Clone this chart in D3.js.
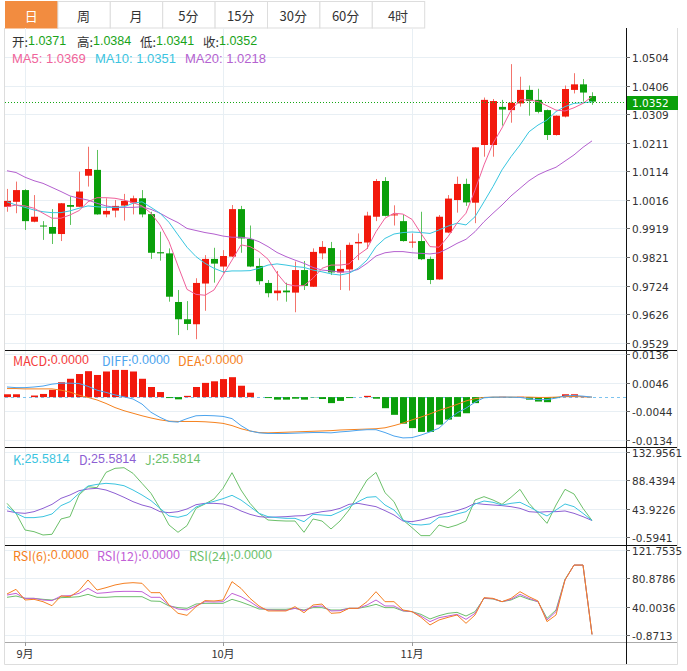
<!DOCTYPE html>
<html>
<head>
<meta charset="utf-8">
<script src="https://cdn.jsdelivr.net/npm/d3@7"></script>
<style>
  body { margin: 0; background: #fff; }
  svg { display: block; }
  .cn { font-family: 'Microsoft YaHei', 'Noto Sans CJK SC', 'Noto Sans', sans-serif; }
  .lat { font-family: 'Liberation Sans', Arial, sans-serif; }
  .ax { font-family: 'DejaVu Sans', Tahoma, sans-serif; font-size: 10.5px; fill: #333; }
</style>
</head>
<body>
<svg id="chart"></svg>
<script>
// period tabs
const tabs = ['日', '周', '月', '5分', '15分', '30分', '60分', '4时'];

// daily candles, oldest first
const opens = [0.9993, 1.0010, 1.0050, 0.9942, 0.9929, 0.9924, 0.9900, 0.9999, 0.9993, 1.0099,
    1.0119, 0.9967, 0.9980, 0.9997, 1.0007, 1.0022, 0.9968, 0.9838, 0.9834, 0.9668,
    0.9609, 0.9592, 0.9731, 0.9815, 0.9789, 0.9823, 0.9985, 0.9883, 0.9791, 0.9733,
    0.9698, 0.9707, 0.9700, 0.9777, 0.9720, 0.9834, 0.9852, 0.9769, 0.9779, 0.9868,
    0.9871, 0.9959, 1.0081, 0.9964, 0.9944, 0.9871, 0.9876, 0.9815, 0.9745, 0.9905,
    1.0016, 1.0071, 1.0007, 1.0204, 1.0204, 1.0334, 1.0323, 1.0346, 1.0392, 1.0358,
    1.0323, 1.0238, 1.0301, 1.0392, 1.0411, 1.0371];
const highs = [1.0054, 1.0079, 1.0053, 1.0033, 0.9944, 0.9985, 1.0006, 1.0028, 1.0113, 1.0198,
    1.0187, 1.0022, 1.0016, 1.0037, 1.0031, 1.0050, 0.9976, 0.9908, 0.9851, 0.9709,
    0.9671, 0.9749, 0.9828, 0.9853, 0.9845, 0.9999, 0.9996, 0.9929, 0.9817, 0.9743,
    0.9774, 0.9734, 0.9806, 0.9808, 0.9851, 0.9876, 0.9873, 0.9845, 0.9871, 0.9902,
    0.9976, 1.0088, 1.0094, 0.9998, 0.9965, 0.9902, 0.9976, 0.9823, 0.9965, 1.0033,
    1.0096, 1.0089, 1.0197, 1.0366, 1.0361, 1.0358, 1.0480, 1.0437, 1.0407, 1.0396,
    1.0325, 1.0305, 1.0407, 1.0449, 1.0429, 1.0384];
const lows = [0.9976, 0.9971, 0.9914, 0.9940, 0.9880, 0.9866, 0.9876, 0.9931, 0.9992, 1.0062,
    0.9966, 0.9957, 0.9957, 0.9946, 0.9967, 0.9957, 0.9815, 0.9809, 0.9669, 0.9555,
    0.9572, 0.9541, 0.9638, 0.9734, 0.9766, 0.9821, 0.9836, 0.9787, 0.9727, 0.9684,
    0.9673, 0.9669, 0.9633, 0.9709, 0.9719, 0.9814, 0.9760, 0.9709, 0.9707, 0.9811,
    0.9849, 0.9944, 0.9960, 0.9929, 0.9874, 0.9853, 0.9811, 0.9729, 0.9744, 0.9903,
    0.9973, 0.9996, 0.9937, 1.0164, 1.0164, 1.0270, 1.0280, 1.0335, 1.0304, 1.0312,
    1.0221, 1.0236, 1.0298, 1.0380, 1.0352, 1.0341];
const closes = [1.0013, 1.0050, 0.9944, 0.9959, 0.9926, 0.9901, 1.0005, 0.9993, 1.0045, 1.0122,
    0.9967, 0.9979, 0.9996, 1.0013, 1.0022, 0.9967, 0.9836, 0.9834, 0.9686, 0.9609,
    0.9593, 0.9733, 0.9815, 0.9799, 0.9825, 0.9985, 0.9885, 0.9789, 0.9739, 0.9698,
    0.9707, 0.9701, 0.9777, 0.9723, 0.9839, 0.9856, 0.9769, 0.9781, 0.9863, 0.9873,
    0.9963, 1.0081, 0.9962, 0.9967, 0.9876, 0.9874, 0.9814, 0.9743, 0.9959, 1.0021,
    1.0071, 1.0008, 1.0196, 1.0358, 1.0354, 1.0325, 1.0348, 1.0392, 1.0354, 1.0317,
    1.0238, 1.0304, 1.0395, 1.0411, 1.0383, 1.0352];

// moving averages as drawn
const ma5 = [0.9993, 0.9999, 0.9996, 0.9988, 0.9971, 0.9954, 0.9954, 0.9965, 0.9980, 1.0010,
    1.0024, 1.0024, 1.0022, 1.0016, 1.0007, 0.9996, 0.9971, 0.9931, 0.9874, 0.9791,
    0.9711, 0.9694, 0.9691, 0.9709, 0.9760, 0.9811, 0.9863, 0.9857, 0.9840, 0.9814,
    0.9766, 0.9729, 0.9723, 0.9724, 0.9749, 0.9783, 0.9794, 0.9794, 0.9798, 0.9828,
    0.9850, 0.9908, 0.9954, 0.9971, 0.9968, 0.9950, 0.9902, 0.9857, 0.9855, 0.9891,
    0.9937, 0.9971, 1.0050, 1.0136, 1.0210, 1.0262, 1.0322, 1.0358, 1.0358, 1.0352,
    1.0338, 1.0323, 1.0320, 1.0331, 1.0346, 1.0369];
const ma10 = [1.0010, 0.9999, 0.9991, 0.9982, 0.9976, 0.9973, 0.9973, 0.9979, 0.9988, 0.9996,
    0.9993, 0.9991, 0.9991, 0.9993, 1.0005, 1.0010, 0.9991, 0.9971, 0.9940, 0.9897,
    0.9855, 0.9823, 0.9800, 0.9783, 0.9771, 0.9774, 0.9774, 0.9775, 0.9783, 0.9794,
    0.9798, 0.9794, 0.9789, 0.9786, 0.9777, 0.9771, 0.9764, 0.9760, 0.9766, 0.9783,
    0.9811, 0.9857, 0.9885, 0.9900, 0.9905, 0.9907, 0.9905, 0.9902, 0.9914, 0.9927,
    0.9937, 0.9931, 0.9959, 1.0010, 1.0062, 1.0119, 1.0164, 1.0204, 1.0249, 1.0272,
    1.0289, 1.0318, 1.0335, 1.0346, 1.0348, 1.0351];
const ma20 = [1.0116, 1.0110, 1.0094, 1.0082, 1.0073, 1.0059, 1.0045, 1.0030, 1.0022, 1.0016,
    1.0005, 0.9996, 0.9991, 0.9991, 0.9991, 0.9993, 0.9984, 0.9971, 0.9954, 0.9939,
    0.9919, 0.9912, 0.9905, 0.9900, 0.9893, 0.9889, 0.9889, 0.9885, 0.9874, 0.9857,
    0.9837, 0.9823, 0.9811, 0.9800, 0.9786, 0.9777, 0.9774, 0.9770, 0.9771, 0.9779,
    0.9800, 0.9825, 0.9836, 0.9840, 0.9840, 0.9836, 0.9834, 0.9832, 0.9836, 0.9851,
    0.9868, 0.9882, 0.9908, 0.9942, 0.9971, 0.9999, 1.0030, 1.0056, 1.0082, 1.0102,
    1.0116, 1.0128, 1.0149, 1.0170, 1.0196, 1.0218];

// MACD
const macdBars = [0.0009, 0.0009, 0.0000, 0.0005, 0.0010, 0.0023, 0.0047, 0.0058, 0.0073, 0.0082,
    0.0070, 0.0081, 0.0086, 0.0086, 0.0081, 0.0058, 0.0032, 0.0016, -0.0003, -0.0007,
    0.0004, 0.0032, 0.0045, 0.0050, 0.0057, 0.0063, 0.0036, 0.0014, 0.0000, -0.0003,
    -0.0008, -0.0008, -0.0005, -0.0008, -0.0001, -0.0006, -0.0019, -0.0012, -0.0003, 0.0000,
    0.0004, -0.0005, -0.0035, -0.0056, -0.0084, -0.0098, -0.0110, -0.0110, -0.0087, -0.0071,
    -0.0062, -0.0051, -0.0019, -0.0003, -0.0001, 0.0001, -0.0001, 0.0001, -0.0008, -0.0014,
    -0.0016, -0.0003, 0.0009, 0.0009, 0.0003, 0.0000];
const diffLine = [0.0032, 0.0030, 0.0030, 0.0032, 0.0035, 0.0041, 0.0044, 0.0044, 0.0043, 0.0034,
    0.0022, 0.0015, 0.0007, 0.0001, -0.0006, -0.0022, -0.0048, -0.0064, -0.0077, -0.0079,
    -0.0068, -0.0059, -0.0058, -0.0059, -0.0061, -0.0068, -0.0090, -0.0107, -0.0113, -0.0115,
    -0.0115, -0.0115, -0.0114, -0.0113, -0.0112, -0.0112, -0.0113, -0.0110, -0.0108, -0.0105,
    -0.0103, -0.0103, -0.0112, -0.0123, -0.0129, -0.0128, -0.0120, -0.0110, -0.0098, -0.0072,
    -0.0050, -0.0035, -0.0016, -0.0002, 0.0000, 0.0000, 0.0000, -0.0001, -0.0005, -0.0008,
    -0.0008, -0.0003, 0.0004, 0.0005, 0.0003, 0.0000];
const deaLine = [0.0027, 0.0027, 0.0026, 0.0026, 0.0026, 0.0026, 0.0022, 0.0016, 0.0006, -0.0001,
    -0.0009, -0.0020, -0.0033, -0.0043, -0.0051, -0.0059, -0.0066, -0.0072, -0.0076, -0.0077,
    -0.0077, -0.0077, -0.0078, -0.0080, -0.0083, -0.0090, -0.0100, -0.0107, -0.0112, -0.0113,
    -0.0112, -0.0111, -0.0110, -0.0109, -0.0108, -0.0107, -0.0106, -0.0104, -0.0103, -0.0102,
    -0.0101, -0.0100, -0.0097, -0.0090, -0.0082, -0.0072, -0.0063, -0.0053, -0.0042, -0.0033,
    -0.0023, -0.0012, -0.0005, -0.0001, 0.0000, 0.0000, 0.0000, 0.0000, 0.0000, -0.0001,
    -0.0001, 0.0000, 0.0002, 0.0002, 0.0001, 0.0000];

// KDJ
const kLine = [47.2, 36.8, 30.1, 30.1, 31.6, 35.8, 48.8, 55.0, 68.0, 79.4,
    82.0, 83.6, 82.5, 79.9, 73.2, 65.4, 56.6, 44.6, 32.7, 30.6,
    34.2, 46.7, 51.9, 55.5, 59.7, 64.9, 57.6, 47.2, 36.8, 31.6,
    30.1, 29.0, 29.0, 23.8, 35.2, 34.2, 33.2, 39.4, 46.7, 55.0,
    61.8, 62.8, 49.8, 42.0, 26.4, 19.6, 18.6, 20.2, 30.6, 31.6,
    35.8, 39.4, 51.4, 56.0, 54.0, 49.8, 52.4, 54.0, 47.2, 39.4,
    32.7, 42.0, 51.4, 47.2, 36.8, 25.6];
const dLine = [40.5, 37.8, 36.8, 39.4, 44.6, 50.8, 60.2, 65.4, 72.1, 74.8,
    75.8, 73.2, 68.0, 61.8, 55.0, 49.8, 46.2, 39.4, 37.8, 39.4,
    43.6, 50.3, 52.4, 52.4, 51.4, 47.2, 40.5, 35.2, 31.6, 30.6,
    31.1, 31.6, 32.7, 33.2, 36.8, 39.4, 41.0, 44.6, 50.8, 52.4,
    49.8, 47.2, 41.0, 34.2, 24.8, 23.8, 26.4, 30.1, 34.2, 37.8,
    41.0, 45.6, 52.4, 50.8, 49.8, 48.8, 47.2, 44.6, 39.4, 38.4,
    39.4, 39.4, 40.5, 36.8, 31.6, 25.6];
const jLine = [52.4, 36.8, 10.8, 8.2, 3.0, 4.1, 28.0, 31.6, 65.4, 78.4,
    76.8, 100.7, 107.0, 108.0, 99.2, 83.6, 68.0, 44.6, 18.6, 7.2,
    17.6, 44.6, 51.4, 59.2, 75.8, 100.2, 73.2, 52.4, 36.8, 26.4,
    25.4, 24.8, 24.8, 7.2, 28.0, 24.8, 12.4, 24.8, 42.0, 65.4,
    88.8, 100.7, 69.0, 55.0, 26.4, 14.5, 2.0, 2.0, 18.6, 14.5,
    18.6, 24.8, 57.6, 62.8, 57.6, 50.8, 61.8, 74.2, 52.4, 36.8,
    21.2, 49.8, 74.2, 67.0, 44.6, 25.6];

// RSI
const rsi6 = [58.3, 65.0, 49.6, 50.6, 47.2, 41.4, 55.4, 54.4, 63.1, 78.5,
    64.0, 67.4, 71.3, 73.7, 74.6, 73.7, 60.2, 60.2, 42.4, 30.4,
    27.5, 40.0, 48.7, 48.2, 49.6, 76.1, 66.4, 52.0, 41.0, 33.8,
    33.8, 33.8, 40.0, 31.3, 42.4, 43.8, 30.4, 31.3, 37.6, 37.6,
    47.2, 61.6, 47.2, 47.2, 35.2, 32.8, 24.6, 13.6, 20.8, 24.6,
    28.0, 16.0, 28.0, 53.0, 52.0, 47.2, 52.0, 61.6, 54.4, 48.2,
    18.4, 28.0, 78.5, 100, 100, 0];
const rsi12 = [56.8, 59.2, 52.0, 52.0, 49.6, 48.7, 55.4, 55.9, 59.2, 66.4,
    59.2, 60.2, 61.6, 62.1, 62.1, 61.6, 53.5, 53.5, 41.9, 36.6,
    35.2, 41.0, 47.2, 46.7, 47.2, 59.2, 54.4, 47.2, 38.6, 35.2,
    34.7, 34.7, 37.6, 34.2, 40.0, 41.0, 33.8, 34.2, 37.6, 37.6,
    42.4, 49.6, 41.0, 41.0, 34.2, 32.8, 26.5, 18.4, 24.1, 26.5,
    28.9, 21.7, 30.4, 52.5, 51.5, 47.2, 50.6, 57.8, 52.0, 47.2,
    20.8, 32.8, 78.5, 100, 100, 0];
const rsi24 = [53.5, 55.4, 52.0, 52.0, 50.6, 49.6, 53.0, 53.5, 54.4, 57.8,
    53.5, 53.5, 54.4, 54.4, 54.4, 54.4, 48.2, 47.7, 41.0, 38.6,
    37.6, 43.8, 44.8, 44.8, 44.8, 50.6, 46.7, 41.9, 36.6, 36.2,
    36.2, 36.2, 37.6, 35.2, 38.6, 38.6, 35.2, 35.2, 37.6, 37.6,
    40.0, 43.4, 38.6, 38.6, 33.8, 32.8, 28.9, 22.2, 27.0, 30.4,
    31.8, 26.5, 32.8, 52.0, 51.1, 47.2, 49.6, 55.4, 50.6, 47.2,
    23.2, 35.2, 79.4, 100, 100, 0];

// axis ticks
const priceTicks = [1.0504, 1.0406, 1.0309, 1.0211, 1.0114, 1.0016, 0.9919, 0.9821, 0.9724, 0.9626, 0.9529];
const macdTicks = [0.0136, 0.0046, -0.0044, -0.0134];
const kdjTicks = [132.9561, 88.4394, 43.9226, -0.5941];
const rsiTicks = [121.7535, 80.8786, 40.0036, -0.8713];
const monthStarts = [2, 24, 45];
const monthLabels = ['9月', '10月', '11月'];

// colours
const upColor = '#f2190c', downColor = '#0a9f0a';
const upWick = '#f3746c', downWick = '#5cc25c';
const gridColor = '#e8eff4';

// layout
const width = 687, height = 671;
const plotLeft = 5, axisX = 626, frameRight = 677;
const panels = {
    main: { range: [342.7, 57.1], domain: [0.9529, 1.0504], ticks: priceTicks },
    macd: { range: [439.5, 354.1], domain: [-0.0134, 0.0136], ticks: macdTicks },
    kdj: { range: [537.3, 451.7], domain: [-0.5941, 132.9561], ticks: kdjTicks },
    rsi: { range: [635, 550], domain: [-0.8713, 121.7535], ticks: rsiTicks }
};

const svg = d3.select('#chart').attr('width', width).attr('height', height);

const x = d3.scaleLinear().domain([0, closes.length - 1]).range([7, 7 + 9 * (closes.length - 1)]);
Object.values(panels).forEach(p => {
    p.y = d3.scaleLinear().domain(p.domain).range(p.range);
});

// tabs
const tabW = 52.4;
const tabG = svg.append('g');
tabs.forEach((t, i) => {
    tabG.append('rect')
        .attr('x', plotLeft + i * tabW + 0.5)
        .attr('y', 1.5)
        .attr('width', tabW)
        .attr('height', 26.5)
        .attr('fill', i === 0 ? '#f28c40' : '#fff')
        .attr('stroke', i === 0 ? '#f28c40' : '#dddddd');
    tabG.append('text')
        .attr('class', 'cn')
        .attr('x', plotLeft + i * tabW + tabW / 2)
        .attr('y', 15)
        .attr('text-anchor', 'middle')
        .attr('dominant-baseline', 'central')
        .attr('font-size', 13)
        .attr('fill', i === 0 ? '#fff' : '#333')
        .text(t);
});

// frame
svg.append('path')
    .attr('d', `M${plotLeft - 0.5},28 V664.5 H${frameRight + 0.5} V28`)
    .attr('fill', 'none')
    .attr('stroke', '#dddddd');

// grids
Object.values(panels).forEach(p => {
    svg.append('g').selectAll('line')
        .data(p.ticks)
        .enter()
        .append('line')
        .attr('x1', plotLeft)
        .attr('x2', axisX)
        .attr('y1', d => Math.round(p.y(d)) + 0.5)
        .attr('y2', d => Math.round(p.y(d)) + 0.5)
        .attr('stroke', gridColor);
});
svg.append('g').selectAll('line')
    .data(monthStarts)
    .enter()
    .append('line')
    .attr('x1', d => x(d) + 0.5)
    .attr('x2', d => x(d) + 0.5)
    .attr('y1', 28)
    .attr('y2', 645)
    .attr('stroke', gridColor);

// candles
const main = panels.main;
const candleG = svg.append('g');
closes.forEach((c, i) => {
    const o = opens[i];
    const up = c >= o;
    const cx = Math.round(x(i));
    candleG.append('line')
        .attr('x1', cx + 0.5).attr('x2', cx + 0.5)
        .attr('y1', main.y(highs[i])).attr('y2', main.y(lows[i]))
        .attr('stroke', up ? upWick : downWick);
    const yTop = main.y(Math.max(o, c));
    const yBot = main.y(Math.min(o, c));
    candleG.append('rect')
        .attr('x', cx - 3)
        .attr('y', yTop)
        .attr('width', 7)
        .attr('height', Math.max(1, yBot - yTop))
        .attr('fill', up ? upColor : downColor);
});

function drawLine(panel, values, color) {
    const line = d3.line().x((d, i) => x(i)).y(d => panel.y(d));
    svg.append('path')
        .datum(values)
        .attr('d', line)
        .attr('fill', 'none')
        .attr('stroke', color)
        .attr('stroke-width', 1);
}

drawLine(main, ma20, '#b460cf');
drawLine(main, ma10, '#38c6e0');
drawLine(main, ma5, '#f0609a');

// last price
const last = closes[closes.length - 1];
svg.append('line')
    .attr('x1', plotLeft).attr('x2', axisX)
    .attr('y1', Math.round(main.y(last)) + 0.5).attr('y2', Math.round(main.y(last)) + 0.5)
    .attr('stroke', '#14a814')
    .attr('stroke-dasharray', '1,2');

// MACD
const macd = panels.macd;
svg.append('line')
    .attr('x1', plotLeft).attr('x2', axisX)
    .attr('y1', Math.round(macd.y(0)) + 0.5).attr('y2', Math.round(macd.y(0)) + 0.5)
    .attr('stroke', '#7cc3ef')
    .attr('stroke-dasharray', '3,3');
svg.append('g').selectAll('rect')
    .data(macdBars)
    .enter()
    .append('rect')
    .attr('x', (d, i) => Math.round(x(i)) - 3)
    .attr('y', d => macd.y(Math.max(0, d)))
    .attr('width', 7)
    .attr('height', d => Math.abs(macd.y(d) - macd.y(0)))
    .attr('fill', d => d >= 0 ? upColor : downColor);
drawLine(macd, deaLine, '#f5821f');
drawLine(macd, diffLine, '#4ca4ee');

// KDJ
const kdj = panels.kdj;
drawLine(kdj, jLine, '#6cc06a');
drawLine(kdj, dLine, '#8d5fd3');
drawLine(kdj, kLine, '#3cc4e0');

// RSI
const rsi = panels.rsi;
drawLine(rsi, rsi24, '#6cbf6c');
drawLine(rsi, rsi12, '#c160d6');
drawLine(rsi, rsi6, '#f57f22');

// separators and axis lines
[350, 447, 545].forEach(yy => {
    svg.append('line')
        .attr('x1', plotLeft).attr('x2', frameRight)
        .attr('y1', yy + 0.5).attr('y2', yy + 0.5)
        .attr('stroke', '#111');
});
svg.append('line')
    .attr('x1', plotLeft).attr('x2', frameRight)
    .attr('y1', 642.5).attr('y2', 642.5)
    .attr('stroke', '#aaa');
svg.append('line')
    .attr('x1', axisX + 0.5).attr('x2', axisX + 0.5)
    .attr('y1', 28).attr('y2', 664)
    .attr('stroke', '#111');

// right axis labels
Object.values(panels).forEach(p => {
    const g = svg.append('g');
    p.ticks.forEach(t => {
        const yy = Math.round(p.y(t)) + 0.5;
        g.append('line')
            .attr('x1', axisX).attr('x2', axisX + 4)
            .attr('y1', yy).attr('y2', yy)
            .attr('stroke', '#666');
        g.append('text')
            .attr('class', 'ax')
            .attr('x', axisX + 6)
            .attr('y', yy)
            .attr('dominant-baseline', 'central')
            .text(t.toFixed(4));
    });
});

// last price tag
svg.append('rect')
    .attr('x', axisX + 1)
    .attr('y', Math.round(main.y(last)) - 6)
    .attr('width', frameRight - axisX)
    .attr('height', 14)
    .attr('fill', '#0aa00a');
svg.append('text')
    .attr('class', 'ax')
    .attr('x', axisX + 6)
    .attr('y', Math.round(main.y(last)) + 1)
    .attr('dominant-baseline', 'central')
    .style('fill', '#fff')
    .text(last.toFixed(4));

// month axis
monthStarts.forEach((m, k) => {
    svg.append('line')
        .attr('x1', x(m) + 0.5).attr('x2', x(m) + 0.5)
        .attr('y1', 642).attr('y2', 646)
        .attr('stroke', '#999');
    svg.append('text')
        .attr('class', 'cn')
        .attr('x', x(m))
        .attr('y', 653)
        .attr('text-anchor', 'middle')
        .attr('dominant-baseline', 'central')
        .attr('font-size', 11)
        .attr('fill', '#333')
        .text(monthLabels[k]);
});

// legends
function legend(yy, items, cls, size) {
    items.forEach(it => {
        const t = svg.append('text')
            .attr('class', cls)
            .attr('x', it.x)
            .attr('y', yy)
            .attr('dominant-baseline', 'central')
            .attr('font-size', size);
        t.append('tspan').attr('fill', it.labelColor || it.color).text(it.label);
        t.append('tspan').attr('class', 'lat').attr('fill', it.color).text(it.value);
    });
}

const n = closes.length - 1;
const valGreen = '#19a319';
legend(41, [
    { x: 12, label: '开:', labelColor: '#333', value: opens[n].toFixed(4), color: valGreen },
    { x: 77, label: '高:', labelColor: '#333', value: highs[n].toFixed(4), color: valGreen },
    { x: 140, label: '低:', labelColor: '#333', value: lows[n].toFixed(4), color: valGreen },
    { x: 203, label: '收:', labelColor: '#333', value: closes[n].toFixed(4), color: valGreen }
], 'cn', 12.5);
legend(57.5, [
    { x: 12, label: 'MA5: ', value: ma5[n].toFixed(4), color: '#f0649a' },
    { x: 95, label: 'MA10: ', value: ma10[n].toFixed(4), color: '#3cc4e0' },
    { x: 185, label: 'MA20: ', value: ma20[n].toFixed(4), color: '#b462d0' }
], 'lat', 13);
legend(360, [
    { x: 13, label: 'MACD:', value: '0.0000', color: '#f43c3c' },
    { x: 102, label: 'DIFF:', value: '0.0000', color: '#4ca4ee' },
    { x: 178, label: 'DEA:', value: '0.0000', color: '#f5821f' }
], 'cn', 12.5);
legend(459, [
    { x: 13, label: 'K:', value: '25.5814', color: '#3cc4e0' },
    { x: 79, label: 'D:', value: '25.5814', color: '#8d5fd3' },
    { x: 145, label: 'J:', value: '25.5814', color: '#6cc06a' }
], 'cn', 12.5);
legend(555, [
    { x: 13, label: 'RSI(6):', value: '0.0000', color: '#f57f22' },
    { x: 97, label: 'RSI(12):', value: '0.0000', color: '#c160d6' },
    { x: 189, label: 'RSI(24):', value: '0.0000', color: '#6cbf6c' }
], 'cn', 12.5);
</script>
</body>
</html>
